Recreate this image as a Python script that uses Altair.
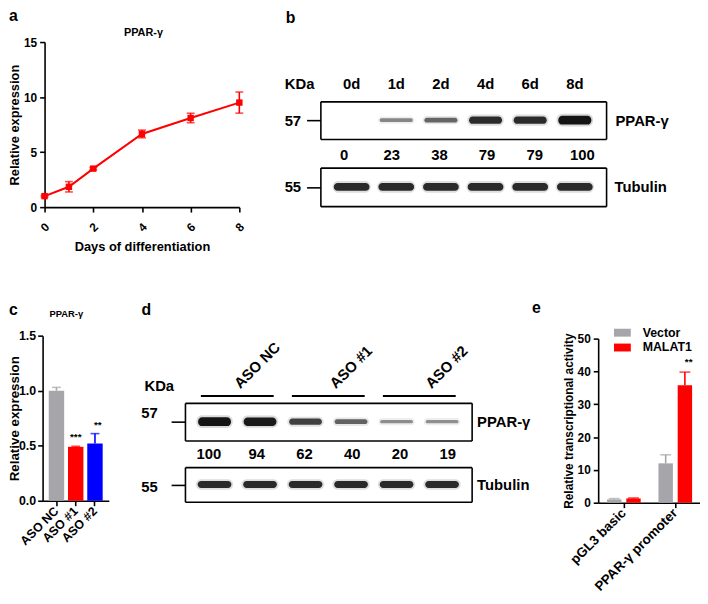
import altair as alt
import pandas as pd

FONT = "Liberation Sans"
RED = "#ff0000"
BLUE = "#0000ff"
GRAY = "#a6a6aa"
INK = "#141414"
W, H = 700, 596


def P(v):
    return v - 8


# ---------------- data ----------------
# a: PPAR-gamma mRNA during differentiation
days = [0, 1, 2, 4, 6, 8]
pparg_a_mean = [1.0, 1.85, 3.5, 6.65, 8.1, 9.5]
pparg_a_sd = [0.08, 0.47, 0.1, 0.35, 0.43, 0.96]
day_ticks = [0, 2, 4, 6, 8]

# b: western blot time course
lanes_b = ["0d", "1d", "2d", "4d", "6d", "8d"]
pparg_b = [0, 23, 38, 79, 79, 100]
tubulin_b = [80, 80, 80, 80, 80, 80]

# c: ASO knockdown, qPCR
aso = ["ASO NC", "ASO #1", "ASO #2"]
pparg_c_mean = [1.0, 0.49, 0.52]
pparg_c_err = [0.03, 0.005, 0.09]
stars_c = ["", "***", "**"]

# d: ASO knockdown, western blot
lanes_d = ["NC-1", "NC-2", "#1-1", "#1-2", "#2-1", "#2-2"]
groups_d = ["ASO NC", "ASO NC", "ASO #1", "ASO #1", "ASO #2", "ASO #2"]
pparg_d = [100, 94, 62, 40, 20, 19]
tubulin_d = [80, 80, 80, 80, 80, 80]

# e: luciferase reporter
reporters = ["pGL3 basic", "PPAR-γ promoter"]
series_e = ["Vector", "MALAT1"]
vector_e = [1.0, 12.0]
vector_err = [0.25, 2.6]
malat_e = [1.3, 35.8]
malat_err = [0.15, 4.0]
stars_e = ["", "**"]

ONE = pd.DataFrame({"k": [0]})

AX = dict(grid=False, domainColor="black", domainWidth=1.6, tickColor="black",
          tickWidth=1.6, labelColor="black", titleColor="black", labelFont=FONT,
          titleFont=FONT, labelFontWeight="bold", titleFontWeight="bold")


def axis(orient, pos, **kw):
    off = {"left": -P(pos), "right": P(pos) - W, "top": -P(pos), "bottom": P(pos) - H}[orient]
    d = dict(AX)
    d.update(kw)
    return alt.Axis(orient=orient, offset=off, **d)


def frame_axis(orient, pos):
    return axis(orient, pos, labels=False, ticks=False, tickSize=0, title=None)


def txt(s, x, y, size, align="center", baseline="middle", angle=0):
    kw = dict(text=s, fontSize=size, align=align, baseline=baseline, font=FONT,
              fontWeight="bold", color="black")
    if angle:
        kw["angle"] = angle
    return alt.Chart(ONE).mark_text(**kw).encode(x=alt.value(P(x)), y=alt.value(P(y)))


layers = []

# ---------------- panel a ----------------
df_a = pd.DataFrame({"day": days, "mean": pparg_a_mean, "sd": pparg_a_sd})
xa = alt.Scale(domain=[0, 8], range=[P(45), P(242)], nice=False, zero=False)
ya = alt.Scale(domain=[0, 15], range=[P(206), P(39)], nice=False)
base_a = alt.Chart(df_a).transform_calculate(lo="datum.mean - datum.sd", hi="datum.mean + datum.sd")
layers.append(base_a.mark_line(color=RED, strokeWidth=2).encode(
    x=alt.X("day:Q", scale=xa, axis=axis("bottom", 206, values=day_ticks, labelAngle=-45,
                                         labelAlign="center", labelBaseline="middle",
                                         labelPadding=15, labelFontSize=12, tickSize=5,
                                         title="Days of differentiation", titleFontSize=13,
                                         titleY=40, titleBaseline="middle")),
    y=alt.Y("mean:Q", scale=ya, axis=axis("left", 45, values=[0, 5, 10, 15], labelFontSize=12,
                                          tickSize=5, labelPadding=3, title="Relative expression",
                                          titleFontSize=13, titleX=-30, titleBaseline="middle"))))
layers.append(base_a.mark_rule(color=RED, strokeWidth=1.6).encode(
    x=alt.X("day:Q", scale=xa, axis=None), y=alt.Y("lo:Q", scale=ya, axis=None), y2="hi:Q"))
for f in ["lo", "hi"]:
    layers.append(base_a.mark_tick(color=RED, orient="horizontal", size=8, thickness=1.6).encode(
        x=alt.X("day:Q", scale=xa, axis=None), y=alt.Y(f + ":Q", scale=ya, axis=None)))
layers.append(base_a.mark_square(color=RED, size=42, opacity=1).encode(
    x=alt.X("day:Q", scale=xa, axis=None), y=alt.Y("mean:Q", scale=ya, axis=None)))
layers.append(txt("PPAR-γ", 145, 30, 11))


# ---------------- blots ----------------
def blot(lanes, values, xr, yr, pad_outer, left_label, left_kw, right_label, right_pad,
         top_labels, core_w, glow_w, numbers_y=None):
    df = pd.DataFrame({"lane": lanes, "I": values})
    xs = alt.Scale(domain=lanes, range=[P(xr[0]), P(xr[1])], paddingInner=0, paddingOuter=pad_outer)
    ys = alt.Scale(domain=[-550, 550], range=[P(yr[1]), P(yr[0])], nice=False, zero=False)
    base = alt.Chart(df).transform_calculate(
        core="datum.I + 30", ncore="-(datum.I + 30)",
        glow="datum.I + 85", nglow="-(datum.I + 85)")
    glow = base.mark_bar(color=INK, width=alt.RelativeBandSize(band=glow_w), cornerRadius=6).encode(
        x=alt.X("lane:N", scale=xs, axis=frame_axis("bottom", yr[1])),
        y=alt.Y("nglow:Q", scale=ys, axis=axis("left", xr[0], values=[0],
                                               labelExpr="'%s'" % left_label, tickSize=14,
                                               labelFontSize=15, labelBaseline="middle",
                                               title=None, **left_kw)),
        y2="glow:Q",
        opacity=alt.Opacity("I:Q", scale=alt.Scale(type="sqrt", domain=[0, 100], range=[0, 0.16]),
                            legend=None))
    if top_labels:
        top_ax = axis("top", yr[0], labels=True, ticks=False, tickSize=0, labelFontSize=15,
                      labelPadding=18, labelBaseline="middle", labelAngle=0, title=None)
    else:
        top_ax = frame_axis("top", yr[0])
    core = base.mark_bar(color=INK, width=alt.RelativeBandSize(band=core_w), cornerRadius=4).encode(
        x=alt.X("lane:N", scale=xs, axis=top_ax),
        y=alt.Y("ncore:Q", scale=ys, axis=axis("right", xr[1], values=[0],
                                               labelExpr="'%s'" % right_label, ticks=False,
                                               tickSize=0, labelFontSize=15, labelPadding=right_pad,
                                               labelBaseline="middle", title=None)),
        y2="core:Q",
        opacity=alt.Opacity("I:Q", scale=alt.Scale(type="sqrt", domain=[0, 100], range=[0, 1]),
                            legend=None))
    out = [glow, core]
    if numbers_y is not None:
        out.append(alt.Chart(df).mark_text(font=FONT, fontWeight="bold", fontSize=15,
                                           baseline="middle", color="black").encode(
            x=alt.X("lane:N", scale=xs, axis=None), y=alt.value(P(numbers_y)), text="I:Q"))
    return out, xs


# panel b
lb, xs_b = blot(lanes_b, pparg_b, (324, 613), (99, 137), 0.2, "57", dict(labelPadding=6),
                "PPAR-γ", 9, True, 0.74, 0.82, numbers_y=153)
layers += lb
lb, _ = blot(lanes_b, tubulin_b, (324, 613), (166, 205), 0.2, "55", dict(labelPadding=6),
             "Tubulin", 8, False, 0.8, 0.86)
layers += lb
layers.append(txt("KDa", 303, 81, 15))

# panel d
ld, xs_d = blot(lanes_d, pparg_d, (187, 477), (404, 442), 0.15, "57",
                dict(labelPadding=14, labelOffset=-9), "PPAR-γ", 5, False, 0.72, 0.8,
                numbers_y=456)
layers += ld
ld, _ = blot(lanes_d, tubulin_d, (187, 477), (469, 504), 0.15, "55",
             dict(labelPadding=14, labelOffset=2), "Tubulin", 5, False, 0.74, 0.82)
layers += ld
layers.append(txt("KDa", 161, 387, 15))

df_g = (pd.DataFrame({"lane": lanes_d, "group": groups_d})
        .groupby("group", sort=False)["lane"].agg(["first", "last"]).reset_index())
layers.append(alt.Chart(df_g).mark_rule(color="black", strokeWidth=2).encode(
    x=alt.X("first:N", scale=xs_d, axis=None, bandPosition=0.2),
    x2=alt.X2("last:N", bandPosition=0.8),
    y=alt.value(P(397))))
layers.append(alt.Chart(df_g).mark_text(font=FONT, fontWeight="bold", fontSize=15, angle=315,
                                        align="left", baseline="alphabetic", dx=45,
                                        color="black").encode(
    x=alt.X("first:N", scale=xs_d, axis=None),
    y=alt.value(P(422)), text="group:N"))

# ---------------- panel c ----------------
df_c = pd.DataFrame({"g": aso, "mean": pparg_c_mean, "err": pparg_c_err, "star": stars_c})
xs_c = alt.Scale(domain=aso, range=[P(43), P(110)], paddingInner=0.2, paddingOuter=0.32)
ys_c = alt.Scale(domain=[0, 1.5], range=[P(503), P(336)], nice=False)
col_c = alt.Scale(domain=aso, range=[GRAY, RED, BLUE])
base_c = alt.Chart(df_c).transform_calculate(hi="datum.mean + datum.err")
layers.append(base_c.mark_bar().encode(
    x=alt.X("g:N", scale=xs_c, sort=aso,
            axis=axis("bottom", 503, labelAngle=-45, labelAlign="right", labelBaseline="middle",
                      labelPadding=3, labelFontSize=12.5, tickSize=5, title=None)),
    y=alt.Y("mean:Q", scale=ys_c,
            axis=axis("left", 43, values=[0, 0.5, 1.0, 1.5], format=".1f", labelFontSize=12.5,
                      tickSize=5, labelPadding=2, title="Relative expression",
                      titleFontSize=13.5, titleX=-28, titleBaseline="middle")),
    color=alt.Color("g:N", scale=col_c, legend=None)))
layers.append(base_c.mark_rule(strokeWidth=1.6).encode(
    x=alt.X("g:N", scale=xs_c, axis=None), y=alt.Y("mean:Q", scale=ys_c, axis=None), y2="hi:Q",
    color=alt.Color("g:N", scale=col_c, legend=None)))
layers.append(base_c.mark_tick(orient="horizontal", size=9, thickness=1.6).encode(
    x=alt.X("g:N", scale=xs_c, axis=None), y=alt.Y("hi:Q", scale=ys_c, axis=None),
    color=alt.Color("g:N", scale=col_c, legend=None)))
layers.append(base_c.mark_text(font=FONT, fontWeight="bold", fontSize=10, dy=-9,
                               baseline="middle", color="black").encode(
    x=alt.X("g:N", scale=xs_c, axis=None), y=alt.Y("hi:Q", scale=ys_c, axis=None), text="star:N"))
layers.append(txt("PPAR-γ", 67, 314, 9.5))

# ---------------- panel e ----------------
df_e = pd.DataFrame({
    "rep": reporters * 2,
    "series": [series_e[0]] * 2 + [series_e[1]] * 2,
    "mean": vector_e + malat_e,
    "err": vector_err + malat_err,
    "star": [""] * 2 + stars_e,
})
xs_e = alt.Scale(domain=reporters, range=[P(605), P(709)], paddingInner=0, paddingOuter=0)
xo_e = alt.Scale(domain=series_e, paddingInner=0.25, paddingOuter=0.4625)
ys_e = alt.Scale(domain=[0, 50], range=[P(505), P(339)], nice=False)
col_e = alt.Scale(domain=series_e, range=[GRAY, RED])
base_e = alt.Chart(df_e).transform_calculate(hi="datum.mean + datum.err")
XE = dict(scale=xs_e, sort=reporters)
layers.append(base_e.mark_bar().encode(
    x=alt.X("rep:N", axis=axis("bottom", 505, labelAngle=-45, labelAlign="right",
                               labelBaseline="middle", labelPadding=3, labelFontSize=13.5,
                               tickSize=5, title=None), **XE),
    xOffset=alt.XOffset("series:N", scale=xo_e, sort=series_e),
    y=alt.Y("mean:Q", scale=ys_e,
            axis=axis("left", 605, values=[0, 10, 20, 30, 40, 50], labelFontSize=12,
                      tickSize=5, labelPadding=3, title="Relative transcriptional activity",
                      titleFontSize=12, titleX=-30, titleBaseline="middle")),
    color=alt.Color("series:N", scale=col_e, sort=series_e,
                    legend=alt.Legend(orient="none", legendX=P(621), legendY=P(324.5),
                                      direction="vertical", title=None,
                                      symbolType="M-1,-0.47L1,-0.47L1,0.47L-1,0.47Z",
                                      symbolSize=289, symbolStrokeWidth=0, symbolOpacity=1,
                                      labelFont=FONT, labelFontWeight="bold", labelFontSize=12.5,
                                      labelColor="black", labelOffset=12, padding=0,
                                      rowPadding=0))))
layers.append(base_e.mark_rule(strokeWidth=1.6).encode(
    x=alt.X("rep:N", axis=None, **XE), xOffset=alt.XOffset("series:N", scale=xo_e, sort=series_e),
    y=alt.Y("mean:Q", scale=ys_e, axis=None), y2="hi:Q",
    color=alt.Color("series:N", scale=col_e, legend=None)))
layers.append(base_e.mark_tick(orient="horizontal", size=11, thickness=1.6).encode(
    x=alt.X("rep:N", axis=None, **XE), xOffset=alt.XOffset("series:N", scale=xo_e, sort=series_e),
    y=alt.Y("hi:Q", scale=ys_e, axis=None),
    color=alt.Color("series:N", scale=col_e, legend=None)))
layers.append(base_e.mark_text(font=FONT, fontWeight="bold", fontSize=10, dy=-10,
                               baseline="middle", color="black").encode(
    x=alt.X("rep:N", axis=None, **XE), xOffset=alt.XOffset("series:N", scale=xo_e, sort=series_e),
    y=alt.Y("hi:Q", scale=ys_e, axis=None), text="star:N"))

# ---------------- panel letters ----------------
for s, x, y in [("a", 9, 18), ("b", 289, 20), ("c", 9, 315), ("d", 143, 315), ("e", 538, 313)]:
    layers.append(txt(s, x, y, 16, align="left", baseline="alphabetic"))

chart = alt.layer(*layers).resolve_scale(
    x="independent", y="independent", color="independent", opacity="independent",
    xOffset="independent"
).properties(
    width=W, height=H, autosize=alt.AutoSizeParams(type="none"), padding=0
).configure_view(stroke=None)

chart.save("out.html", embed_options={"renderer": "svg", "actions": False})
